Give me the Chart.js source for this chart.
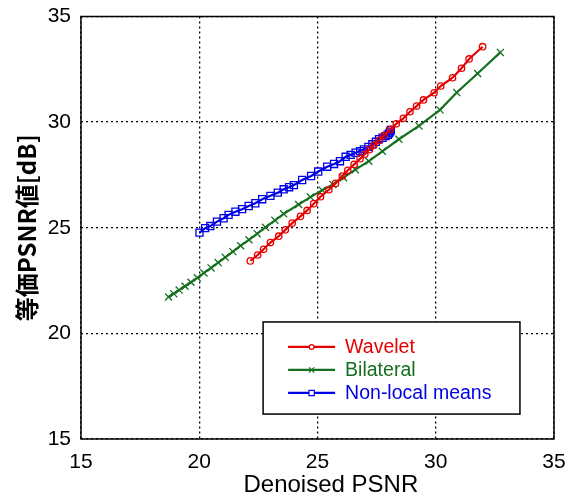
<!DOCTYPE html>
<html>
<head>
<meta charset="utf-8">
<script src="https://cdn.jsdelivr.net/npm/chart.js@4/dist/chart.umd.min.js"></script>
<style>
    body { margin: 0; background: #fff; }
    #wrap { width: 573px; height: 496px; }
</style>
</head>
<body>
<div id="wrap"><canvas id="psnrChart" width="573" height="496"></canvas></div>
<script>
// series
const seriesNames = ["Wavelet", "Bilateral", "Non-local means"];

const waveletX = [22.16, 22.47, 22.72, 23.01, 23.36, 23.64, 23.93, 24.28, 24.56, 24.84, 25.13, 25.48, 25.76, 26.05, 26.28, 26.55, 26.80, 27.00, 27.20, 27.38, 27.60, 27.80, 28.09, 28.33, 28.63, 28.91, 29.19, 29.48, 29.93, 30.21, 30.71, 31.09, 31.41, 31.98];
const waveletY = [23.43, 23.71, 23.98, 24.30, 24.60, 24.90, 25.22, 25.54, 25.82, 26.14, 26.47, 26.80, 27.10, 27.45, 27.72, 28.00, 28.27, 28.48, 28.70, 28.90, 29.13, 29.36, 29.66, 29.92, 30.18, 30.49, 30.76, 31.05, 31.39, 31.71, 32.10, 32.55, 32.99, 33.57];

const bilateralX = [18.70, 18.92, 19.15, 19.40, 19.65, 19.92, 20.20, 20.50, 20.80, 21.10, 21.42, 21.75, 22.10, 22.45, 22.80, 23.20, 23.57, 24.20, 24.70, 25.20, 25.65, 26.10, 26.60, 27.17, 27.74, 28.44, 29.29, 30.18, 30.89, 31.77, 32.73];
const bilateralY = [21.72, 21.88, 22.05, 22.23, 22.42, 22.63, 22.86, 23.10, 23.35, 23.60, 23.87, 24.15, 24.43, 24.72, 25.02, 25.35, 25.66, 26.10, 26.45, 26.78, 27.05, 27.37, 27.75, 28.15, 28.62, 29.19, 29.82, 30.58, 31.40, 32.30, 33.30];

const nlmX = [20.01, 20.25, 20.47, 20.75, 21.03, 21.24, 21.53, 21.81, 22.09, 22.37, 22.66, 23.01, 23.32, 23.57, 23.80, 24.00, 24.35, 24.73, 25.03, 25.41, 25.70, 25.95, 26.19, 26.40, 26.61, 26.80, 26.96, 27.15, 27.32, 27.47, 27.60, 27.75, 27.88, 27.97, 28.03, 28.07, 28.10];
const nlmY = [24.77, 24.98, 25.08, 25.29, 25.45, 25.61, 25.76, 25.88, 26.03, 26.16, 26.35, 26.51, 26.66, 26.82, 26.92, 27.02, 27.26, 27.45, 27.66, 27.89, 28.02, 28.15, 28.36, 28.45, 28.55, 28.63, 28.71, 28.83, 28.95, 29.07, 29.19, 29.26, 29.34, 29.40, 29.47, 29.55, 29.63];

const axisMin = 15;
const axisMax = 35;
const tickStep = 5;

const colors = ["rgb(230,0,0)", "rgb(20,112,30)", "rgb(0,0,230)"];
const markers = ["circle", "crossRot", "rect"];
const markerSizes = [3.2, 5, 5];

function toPoints(xs, ys) {
    return xs.map((x, i) => ({ x: x, y: ys[i] }));
}

// 📌 legend box drawn inside the plot, lower right
const boxLegend = {
    id: "boxLegend",
    afterDatasetsDraw(chart) {
        const ctx = chart.ctx;
        const a = chart.chartArea;
        const w = a.right - a.left, h = a.bottom - a.top;
        const bx = a.left + w * 0.385, by = a.top + h * 0.723;
        const bw = w * 0.543, bh = h * 0.218;
        ctx.save();
        ctx.fillStyle = "#fff";
        ctx.fillRect(bx, by, bw, bh);
        ctx.strokeStyle = "#000";
        ctx.lineWidth = 1.5;
        ctx.strokeRect(bx, by, bw, bh);
        chart.data.datasets.forEach((ds, i) => {
            const y = by + 25 + i * 23;
            ctx.strokeStyle = ds.borderColor;
            ctx.lineWidth = 2.2;
            ctx.beginPath();
            ctx.moveTo(bx + 25, y);
            ctx.lineTo(bx + 72, y);
            ctx.stroke();
            ctx.lineWidth = 1.2;
            ctx.fillStyle = "#fff";
            Chart.helpers.drawPoint(ctx, { pointStyle: ds.pointStyle, radius: ds.pointRadius * 0.75, borderWidth: 1.2 }, bx + 48.5, y);
            ctx.fillStyle = ds.borderColor;
            ctx.font = "19.5px 'Liberation Sans', Arial, sans-serif";
            ctx.textBaseline = "middle";
            ctx.fillText(ds.label, bx + 82, y + 1);
        });
        ctx.restore();
    }
};

// 📌 solid frame round the plot
const frame = {
    id: "frame",
    afterDraw(chart) {
        const a = chart.chartArea;
        const ctx = chart.ctx;
        ctx.save();
        ctx.strokeStyle = "#000";
        ctx.lineWidth = 1.5;
        ctx.strokeRect(a.left, a.top, a.right - a.left, a.bottom - a.top);
        ctx.restore();
    }
};

const tickFont = { family: "'Liberation Sans', Arial, sans-serif", size: 21 };

new Chart(document.getElementById("psnrChart"), {
    type: "scatter",
    data: {
        datasets: [
            { data: toPoints(waveletX, waveletY) },
            { data: toPoints(bilateralX, bilateralY) },
            { data: toPoints(nlmX, nlmY) }
        ].map((ds, i) => Object.assign(ds, {
            label: seriesNames[i],
            showLine: true,
            borderColor: colors[i],
            backgroundColor: "rgba(0,0,0,0)",
            borderWidth: 2.2,
            pointStyle: markers[i],
            pointRadius: markerSizes[i],
            pointBorderWidth: 1.3,
            pointBorderColor: colors[i],
            pointBackgroundColor: "rgba(0,0,0,0)",
            tension: 0
        }))
    },
    options: {
        responsive: false,
        animation: false,
        layout: { padding: { top: 16.5, right: 19, left: 0, bottom: 0 } },
        plugins: {
            legend: { display: false },
            tooltip: { enabled: false }
        },
        scales: {
            x: {
                type: "linear",
                min: axisMin,
                max: axisMax,
                ticks: { stepSize: tickStep, color: "#000", font: tickFont, padding: 11, maxRotation: 0 },
                grid: { color: "#000", lineWidth: 1.3, drawTicks: false },
                border: { display: false, dash: [2, 3] },
                title: {
                    display: true,
                    text: "    Denoised PSNR",
                    color: "#000",
                    font: { family: "'Liberation Sans', Arial, sans-serif", size: 24, lineHeight: 0.85 },
                    padding: { top: 0, bottom: 0 }
                },
                afterFit(scale) {
                    scale.height = 57;
                    scale.paddingLeft = 0;
                    scale.paddingRight = 0;
                }
            },
            y: {
                type: "linear",
                min: axisMin,
                max: axisMax,
                ticks: { stepSize: tickStep, color: "#000", font: tickFont, padding: 10 },
                grid: { color: "#000", lineWidth: 1.3, drawTicks: false },
                border: { display: false, dash: [2, 3] },
                title: {
                    display: true,
                    text: "等価PSNR値[dB]",
                    color: "#000",
                    font: { family: "'Noto Sans CJK JP', sans-serif", size: 24, weight: "bold" },
                    padding: { top: 12, bottom: 0 }
                },
                afterFit(scale) {
                    scale.width = 81;
                    scale.paddingTop = 0;
                    scale.paddingBottom = 0;
                }
            }
        }
    },
    plugins: [boxLegend, frame]
});
</script>
</body>
</html>
